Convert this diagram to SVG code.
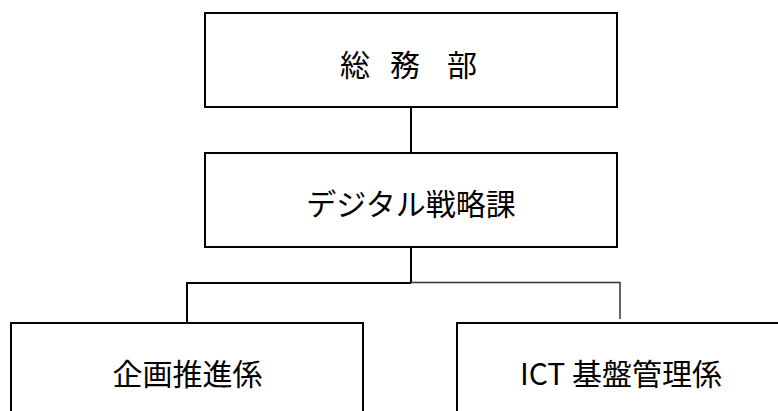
<svg xmlns="http://www.w3.org/2000/svg" width="778" height="411" viewBox="0 0 778 411">
<style>
.box{fill:#fff;stroke:#000;stroke-width:2}
.lbl{font-family:"Noto Sans CJK JP","Liberation Sans",sans-serif;font-size:30px;fill:#000}
.c{stroke:#000;stroke-width:2;fill:none}
.c2{stroke:#333;stroke-width:1.5;fill:none}
</style>
<rect width="778" height="411" fill="#fff"/>
<g id="connectors">
<line class="c" x1="411" y1="107" x2="411" y2="153"/>
<line class="c" x1="411" y1="247" x2="411" y2="283"/>
<polyline class="c" points="411,283 187,283 187,323"/>
<polyline class="c2" points="411,282.5 620,282.5 620,319"/>
</g>
<g id="node-soumubu">
<rect class="box" x="205" y="13" width="412" height="94"/>
<text class="lbl" x="340 366 390 420 447" y="76">総 務 部</text>
</g>
<g id="node-digital">
<rect class="box" x="205" y="153" width="412" height="94"/>
<text class="lbl" x="411" y="215" text-anchor="middle">デジタル戦略課</text>
</g>
<g id="node-kikaku">
<rect class="box" x="11" y="323" width="352" height="120"/>
<text class="lbl" x="187.5" y="385" text-anchor="middle">企画推進係</text>
</g>
<g id="node-ict">
<rect class="box" x="457" y="323" width="360" height="120"/>
<text class="lbl" x="621" y="385" text-anchor="middle">ICT 基盤管理係</text>
</g>
</svg>
